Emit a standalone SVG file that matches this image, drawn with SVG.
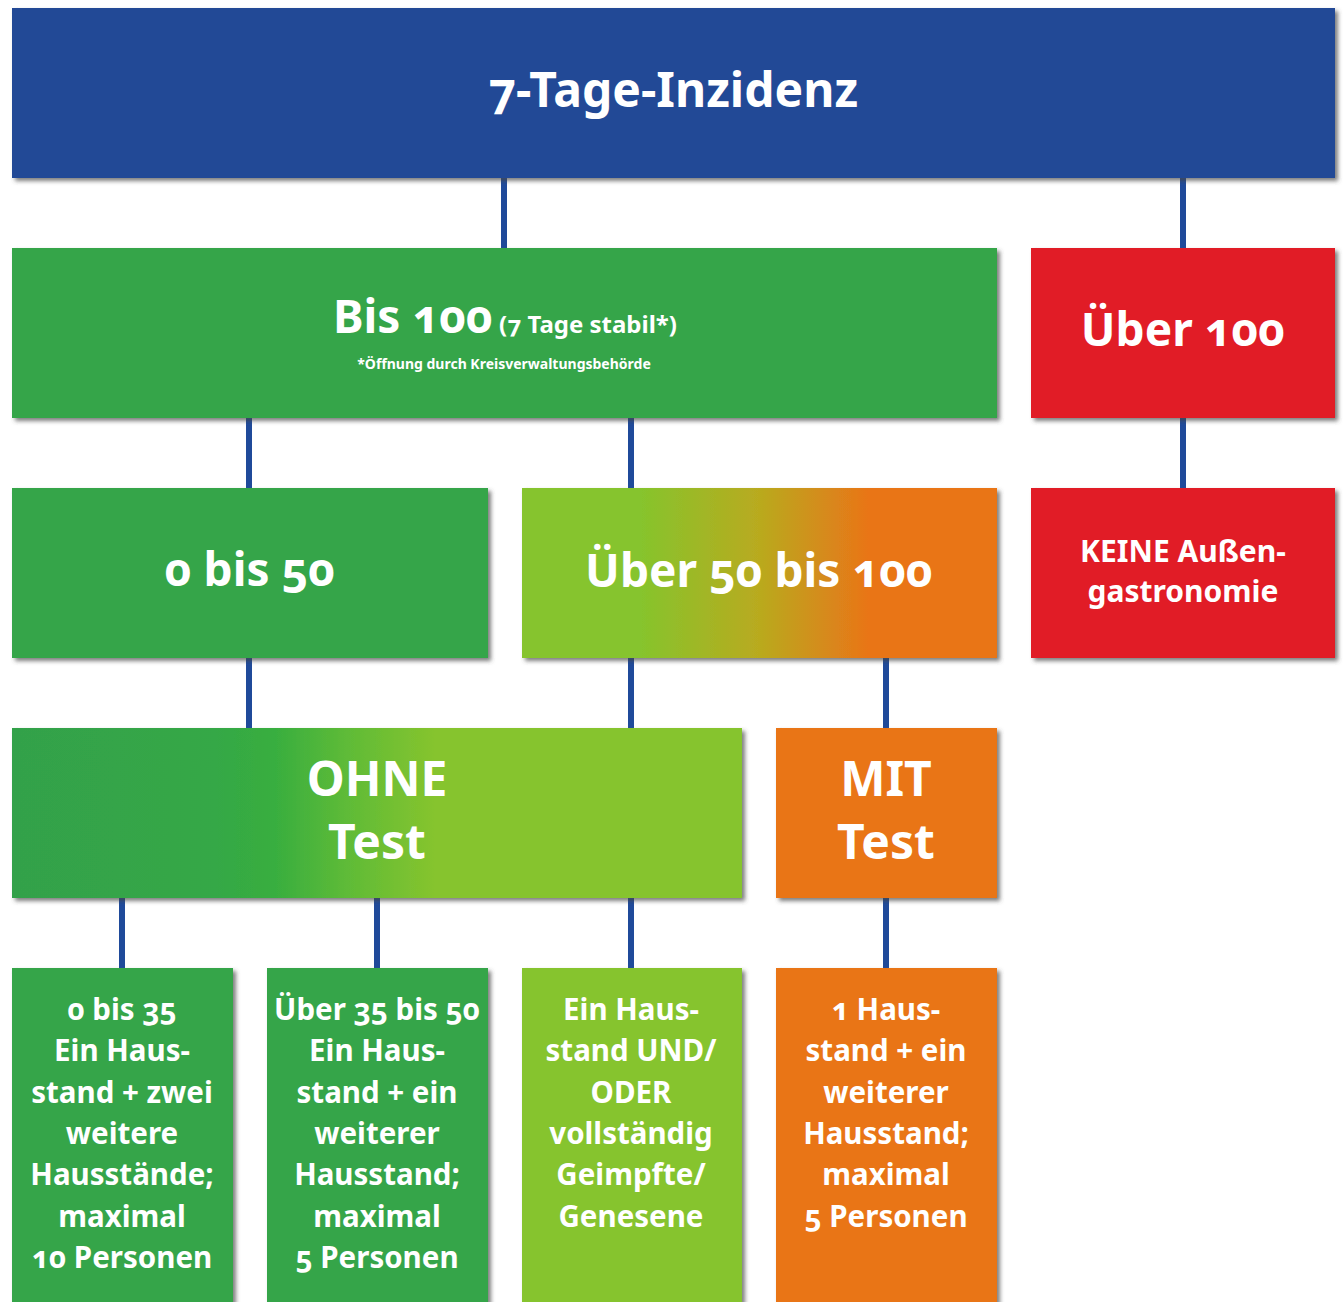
<svg xmlns="http://www.w3.org/2000/svg" width="1343" height="1302" viewBox="0 0 1343 1302">
<defs>
<filter id="sh" x="-5%" y="-5%" width="115%" height="115%">
<feDropShadow dx="3" dy="3" stdDeviation="2" flood-color="#444" flood-opacity="0.7"/>
</filter>
<linearGradient id="gOr" x1="0" y1="0" x2="1" y2="0">
<stop offset="0" stop-color="#86c42d"/>
<stop offset="0.25" stop-color="#86c42d"/>
<stop offset="0.5" stop-color="#b9aa1f"/>
<stop offset="0.73" stop-color="#e97518"/>
<stop offset="1" stop-color="#e97518"/>
</linearGradient>
<linearGradient id="gGr" x1="0" y1="0" x2="1" y2="0">
<stop offset="0" stop-color="#33a14a"/>
<stop offset="0.28" stop-color="#35a846"/>
<stop offset="0.36" stop-color="#38ae3f"/>
<stop offset="0.46" stop-color="#5fbb37"/>
<stop offset="0.58" stop-color="#86c42d"/>
<stop offset="1" stop-color="#86c42d"/>
</linearGradient>
</defs>
<style>
text{font-family:"Noto Sans","Open Sans",sans-serif;font-weight:700;fill:#fff;text-anchor:middle;font-variant-numeric:oldstyle-nums}
.box{filter:url(#sh)}
.blue{fill:#234a96}.green{fill:#34a548}.red{fill:#e11e26}.orange{fill:#e97518}.lg{fill:#86c42d}
.big{font-size:46px}
.body{font-size:29.5px}
.conn line{stroke:#1f4a9a;stroke-width:6}
</style>
<g class="conn" id="connectors">
<line x1="504" y1="175" x2="504" y2="250"/>
<line x1="1183" y1="175" x2="1183" y2="250"/>
<line x1="249" y1="415" x2="249" y2="490"/>
<line x1="631" y1="415" x2="631" y2="490"/>
<line x1="1183" y1="415" x2="1183" y2="490"/>
<line x1="249" y1="655" x2="249" y2="730"/>
<line x1="631" y1="655" x2="631" y2="730"/>
<line x1="886" y1="655" x2="886" y2="730"/>
<line x1="122" y1="895" x2="122" y2="970"/>
<line x1="377" y1="895" x2="377" y2="970"/>
<line x1="631" y1="895" x2="631" y2="970"/>
<line x1="886" y1="895" x2="886" y2="970"/>
</g>
<g id="inzidenz">
<rect class="box blue" x="12" y="8" width="1323" height="170"/>
<text x="673" y="107" style="font-size:48px">7-Tage-Inzidenz</text>
</g>
<g id="bis100">
<rect class="box green" x="12" y="248" width="985" height="170"/>
<text x="505" y="333"><tspan class="big">Bis 100</tspan><tspan style="font-size:24px"> (7 Tage stabil*)</tspan></text>
<text x="504" y="369" style="font-size:14px">*Öffnung durch Kreisverwaltungsbehörde</text>
</g>
<g id="ueber100">
<rect class="box red" x="1031" y="248" width="304" height="170"/>
<text class="big" x="1183" y="346">Über 100</text>
</g>
<g id="n0bis50">
<rect class="box green" x="12" y="488" width="476" height="170"/>
<text class="big" x="250" y="586">0 bis 50</text>
</g>
<g id="ueber50bis100">
<rect class="box" fill="url(#gOr)" x="522" y="488" width="475" height="170"/>
<text class="big" x="759" y="587">Über 50 bis 100</text>
</g>
<g id="keine">
<rect class="box red" x="1031" y="488" width="304" height="170"/>
<text x="1183" y="562" style="font-size:30px">KEINE Außen-</text>
<text x="1183" y="602" style="font-size:30px">gastronomie</text>
</g>
<g id="ohne">
<rect class="box" fill="url(#gGr)" x="12" y="728" width="730" height="170"/>
<text x="377" y="796" style="font-size:48px">OHNE</text>
<text x="377" y="859" style="font-size:48px">Test</text>
</g>
<g id="mit">
<rect class="box orange" x="776" y="728" width="221" height="170"/>
<text x="886" y="796" style="font-size:48px">MIT</text>
<text x="886" y="859" style="font-size:48px">Test</text>
</g>
<g id="b1">
<rect class="box green" x="12" y="968" width="221" height="345"/>
<text class="body" x="122" y="1020">0 bis 35</text>
<text class="body" x="122" y="1061">Ein Haus-</text>
<text class="body" x="122" y="1103">stand + zwei</text>
<text class="body" x="122" y="1144">weitere</text>
<text class="body" x="122" y="1185">Hausstände;</text>
<text class="body" x="122" y="1227">maximal</text>
<text class="body" x="122" y="1268">10 Personen</text>
</g>
<g id="b2">
<rect class="box green" x="267" y="968" width="221" height="345"/>
<text class="body" x="377" y="1020">Über 35 bis 50</text>
<text class="body" x="377" y="1061">Ein Haus-</text>
<text class="body" x="377" y="1103">stand + ein</text>
<text class="body" x="377" y="1144">weiterer</text>
<text class="body" x="377" y="1185">Hausstand;</text>
<text class="body" x="377" y="1227">maximal</text>
<text class="body" x="377" y="1268">5 Personen</text>
</g>
<g id="b3">
<rect class="box lg" x="522" y="968" width="220" height="345"/>
<text class="body" x="631" y="1020">Ein Haus-</text>
<text class="body" x="631" y="1061">stand UND/</text>
<text class="body" x="631" y="1103">ODER</text>
<text class="body" x="631" y="1144">vollständig</text>
<text class="body" x="631" y="1185">Geimpfte/</text>
<text class="body" x="631" y="1227">Genesene</text>
</g>
<g id="b4">
<rect class="box orange" x="776" y="968" width="221" height="345"/>
<text class="body" x="886" y="1020">1 Haus-</text>
<text class="body" x="886" y="1061">stand + ein</text>
<text class="body" x="886" y="1103">weiterer</text>
<text class="body" x="886" y="1144">Hausstand;</text>
<text class="body" x="886" y="1185">maximal</text>
<text class="body" x="886" y="1227">5 Personen</text>
</g>
</svg>
